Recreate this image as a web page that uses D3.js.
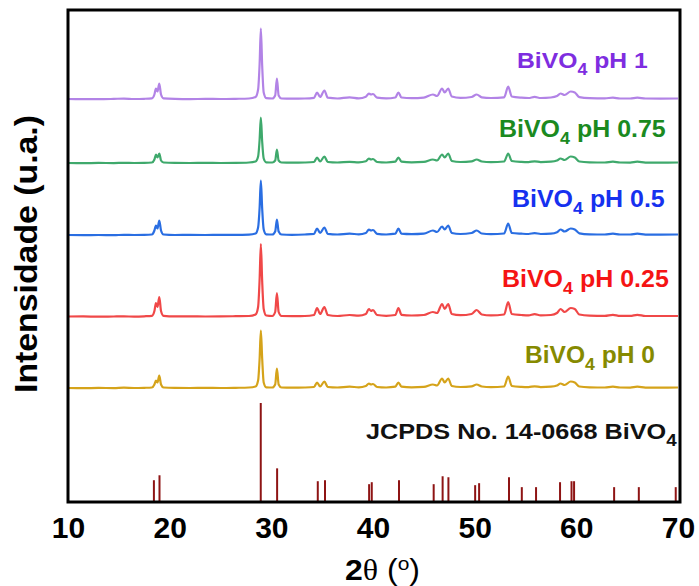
<!DOCTYPE html>
<html>
<head>
<meta charset="utf-8">
<script src="https://cdn.jsdelivr.net/npm/d3@7"></script>
<style>
  html, body { margin: 0; padding: 0; background: #fff; }
  svg { display: block; }
  text { font-family: "Liberation Sans", Arial, sans-serif; }
</style>
</head>
<body>
<svg id="chart" width="699" height="586"></svg>
<script>
// XRD patterns of BiVO4 prepared at different pH, with the JCPDS 14-0668 reference

const twoTheta = [
  10.0, 11.5, 13.0, 14.5, 15.5, 16.5, 17.5, 18.25, 18.5, 18.65, 18.8, 18.98, 19.15, 19.4,
  20.5, 22.0, 23.5, 25.0, 26.5, 27.8, 28.45, 28.7, 28.85, 28.97, 29.1, 29.25, 29.5,
  30.1, 30.38, 30.55, 30.72, 31.0, 32.0, 33.3, 34.2, 34.5, 34.8, 35.22, 35.55, 36.5,
  37.7, 38.6, 39.3, 39.6, 39.8, 40.0, 40.4, 41.3, 42.2, 42.5, 42.8, 43.8, 45.0, 45.9,
  46.3, 46.8, 47.05, 47.4, 47.75, 48.6, 49.7, 50.2, 50.7, 51.6, 52.9, 53.3, 53.65,
  54.6, 55.3, 55.9, 56.5, 57.5, 58.1, 58.45, 58.85, 59.45, 59.85, 60.3, 61.3, 62.8,
  63.6, 64.3, 65.3, 66.0, 66.8, 68.3, 70.0
];

const intensityPH0 = [
  0.5, 0.3, 0.6, 0.4, 0.8, 0.5, 0.7, 1.0, 4, 8, 6, 13, 4, 1,
  0.6, 0.5, 0.7, 0.5, 0.7, 1, 2, 8, 30, 58, 30, 6, 1.2,
  1, 4, 20, 4, 1, 0.8, 1, 1.5, 6, 2, 7, 1.5, 1,
  1.8, 1.2, 2.5, 5, 4, 4.5, 1.5, 1, 1.8, 6, 1.8, 1.2, 1.6, 4,
  3, 10, 6, 10, 2.5, 1.5, 2.2, 4, 2, 1.4, 2, 12, 2.5,
  1.6, 1.4, 2.2, 1.4, 1.8, 3, 5, 3.5, 7, 6, 2, 1.2, 1,
  1.8, 1, 0.9, 1.8, 0.9, 0.8, 1
];

const intensityPH025 = [
  0.5, 0.6, 0.3, 0.5, 0.6, 0.4, 0.7, 1.2, 6, 14, 10, 20, 6, 1.2,
  0.6, 0.7, 0.5, 0.6, 0.8, 1, 2.5, 10, 38, 73, 36, 8, 1.5,
  1, 5, 24, 5, 1, 0.9, 1, 2, 9, 3, 10, 2, 1,
  2, 1.3, 3, 8, 6, 7, 2, 1.2, 2, 9, 2.2, 1.5, 2, 5,
  4, 13, 8, 13, 3, 1.8, 3, 7, 2.5, 1.6, 2.5, 15, 3,
  2, 1.6, 2.8, 1.6, 2, 4, 8, 5, 9, 8, 2.5, 1.4, 1.2,
  2.2, 1.1, 1.1, 2.2, 1, 1, 1
];

const intensityPH05 = [
  0.5, 0.4, 0.5, 0.3, 0.7, 0.5, 0.6, 1.0, 5, 10, 7, 15, 5, 1,
  0.5, 0.6, 0.5, 0.7, 0.6, 0.9, 2, 8, 28, 55, 27, 6, 1.2,
  1, 4, 16, 4, 1, 0.7, 1, 1.6, 7, 2.5, 8, 1.6, 1,
  1.8, 1.2, 2.5, 6, 5, 5.5, 1.6, 1, 1.8, 7, 1.8, 1.3, 1.8, 5,
  3.5, 9, 6, 10, 2.5, 1.5, 2.5, 5, 2, 1.4, 2, 12, 2.5,
  1.8, 1.5, 2.4, 1.5, 1.8, 3.2, 6, 4, 7, 6, 2.2, 1.2, 1,
  1.8, 1, 1, 1.8, 0.9, 0.9, 1
];

const intensityPH075 = [
  0.5, 0.3, 0.6, 0.4, 0.7, 0.5, 0.6, 1.0, 4, 9, 6, 10, 3, 1,
  0.6, 0.5, 0.7, 0.5, 0.6, 1, 2, 7, 24, 46, 22, 5, 1.2,
  1, 3, 14, 3, 1, 0.8, 1, 1.5, 6, 2, 7, 1.5, 1,
  1.6, 1.2, 2.2, 5, 4, 4.5, 1.5, 1, 1.8, 6, 1.8, 1.2, 1.6, 4,
  3, 9, 6, 10, 2.5, 1.5, 2.2, 4, 2, 1.4, 2, 10, 2.5,
  1.6, 1.4, 2.2, 1.4, 1.8, 3, 5, 3.5, 7, 6, 2, 1.2, 1,
  1.8, 1, 0.9, 1.8, 0.9, 0.8, 1
];

const intensityPH1 = [
  0.5, 0.4, 0.3, 0.6, 0.9, 0.5, 0.7, 1.2, 5, 11, 8, 16, 5, 1.2,
  0.6, 0.4, 0.6, 0.5, 0.7, 1, 2.5, 10, 36, 71, 34, 7, 1.4,
  1, 4, 21, 4, 1, 0.8, 1, 1.7, 7, 2.5, 9, 1.8, 1,
  2.2, 1.2, 2.8, 6, 5, 5.5, 1.8, 1.1, 2, 7, 2, 1.3, 1.9, 5,
  3.5, 11, 7, 11, 3, 1.6, 2.5, 5, 2.2, 1.5, 2.2, 13, 3,
  1.8, 1.5, 2.6, 1.5, 2, 3.5, 6, 4.5, 8, 7, 2.4, 1.3, 1.1,
  1.9, 1, 1, 1.9, 1, 0.9, 1
];

// vertical stacking offset of each pattern (a.u.)
const stackOffset = [113.5, 185, 266.5, 338.5, 402.5];

const sampleNames = ["pH 0", "pH 0.25", "pH 0.5", "pH 0.75", "pH 1"];

// JCPDS 14-0668 reference reflections: position (2θ) and relative intensity (%)
const refPositions = [
  18.45, 19.0, 28.96, 30.57, 34.57, 35.28, 39.62, 39.88, 42.56, 45.97, 46.85, 47.42,
  50.05, 50.44, 53.38, 54.64, 56.04, 58.4, 59.53, 59.78, 63.72, 66.15, 69.78
];
const refIntensity = [
  22, 27, 100, 34, 21, 22, 18, 20, 22, 18, 26, 25,
  17, 19, 25, 15, 15, 20, 21, 21, 15, 15, 15
];

const xTicks = [10, 20, 30, 40, 50, 60, 70];

const series = [intensityPH0, intensityPH025, intensityPH05, intensityPH075, intensityPH1];
const lineColors = ["#d5a31a", "#f04848", "#2a6ee2", "#3fa96c", "#b283e6"];
const labelColors = ["#868a00", "#f51414", "#1631ef", "#1b8a1f", "#7e2de0"];
// label box: left edge, baseline, width
const labelBox = [[525, 363, 130], [502, 287, 167], [512, 207, 153], [499, 137, 167], [517, 68, 131]];

const svg = d3.select("#chart");
const plot = { left: 68, right: 680, top: 10, bottom: 502 };

const x = d3.scaleLinear().domain([10, 70.2]).range([plot.left, plot.right]);
const y = d3.scaleLinear().domain([0, 492]).range([plot.bottom, plot.top]);
const yRef = d3.scaleLinear().domain([0, 100]).range([plot.bottom, plot.bottom - 99]);

svg.append("defs").append("clipPath").attr("id", "plotClip")
  .append("rect")
  .attr("x", plot.left).attr("y", plot.top)
  .attr("width", plot.right - plot.left).attr("height", plot.bottom - plot.top);

const g = svg.append("g").attr("clip-path", "url(#plotClip)");

// reference sticks
g.selectAll("line.ref")
  .data(refPositions.map((p, i) => ({ p, v: refIntensity[i] })))
  .join("line")
  .attr("class", "ref")
  .attr("x1", d => x(d.p)).attr("x2", d => x(d.p))
  .attr("y1", yRef(0)).attr("y2", d => yRef(d.v))
  .attr("stroke", "#8e1414")
  .attr("stroke-width", 2);

// measured patterns
series.forEach((vals, k) => {
  const line = d3.line()
    .x((d, i) => x(twoTheta[i]))
    .y(d => y(d + stackOffset[k]))
    .curve(d3.curveMonotoneX);
  g.append("path")
    .datum(vals)
    .attr("d", line)
    .attr("fill", "none")
    .attr("stroke", lineColors[k])
    .attr("stroke-width", 2.2)
    .attr("stroke-linejoin", "round");
});

// frame
svg.append("rect")
  .attr("x", plot.left).attr("y", plot.top)
  .attr("width", plot.right - plot.left).attr("height", plot.bottom - plot.top)
  .attr("fill", "none").attr("stroke", "#000").attr("stroke-width", 3);

// stretch a text element horizontally so that it spans the given width from x0
function fitWidth(sel, x0, w) {
  const bb = sel.node().getBBox();
  const sx = w / bb.width;
  sel.attr("transform", `translate(${x0},0) scale(${sx},1) translate(${-bb.x},0)`);
}

// x axis tick labels
const xAxis = d3.axisBottom(x).tickValues(xTicks).tickSize(0).tickPadding(15).tickFormat(d3.format("d"));
const ax = svg.append("g").attr("transform", `translate(0,${plot.bottom})`).call(xAxis);
ax.select(".domain").remove();
ax.selectAll("text")
  .attr("font-family", "'Liberation Sans', Arial, sans-serif")
  .attr("font-size", 30)
  .attr("font-weight", "bold")
  .attr("fill", "#000");

// x axis title: 2θ (º)
const xt = svg.append("text")
  .attr("x", 345).attr("y", 580)
  .attr("font-size", 29)
  .attr("fill", "#000");
xt.append("tspan").attr("font-weight", "bold").text("2");
xt.append("tspan").attr("font-family", "'Liberation Serif', serif").text("θ");
xt.append("tspan").text(" (");
xt.append("tspan").attr("font-size", 19).attr("dy", -10).text("o");
xt.append("tspan").attr("dy", 10).text(")");
fitWidth(xt, 345, 75);

// y axis title, reading upward from y = 393
svg.append("text")
  .attr("transform", "translate(37,393) rotate(-90)")
  .attr("text-anchor", "start")
  .attr("font-size", 31)
  .attr("font-weight", "bold")
  .attr("fill", "#000")
  .attr("textLength", 278)
  .attr("lengthAdjust", "spacingAndGlyphs")
  .text("Intensidade (u.a.)");

// sample labels
function bivoLabel(xp, yp, suffix, color, size) {
  const t = svg.append("text")
    .attr("x", xp).attr("y", yp)
    .attr("font-size", size)
    .attr("font-weight", "bold")
    .attr("fill", color);
  t.append("tspan").text("BiVO");
  t.append("tspan").attr("font-size", size * 0.72).attr("dy", size * 0.3).text("4");
  if (suffix) t.append("tspan").attr("dy", -size * 0.3).text(" " + suffix);
  return t;
}

sampleNames.forEach((name, k) => {
  const [lx, ly, lw] = labelBox[k];
  const t = bivoLabel(lx, ly, name, labelColors[k], 23);
  fitWidth(t, lx, lw);
});

// reference label
const rt = svg.append("text")
  .attr("x", 366).attr("y", 439)
  .attr("font-size", 21.5)
  .attr("font-weight", "bold")
  .attr("fill", "#111");
rt.append("tspan").text("JCPDS No. 14-0668 BiVO");
rt.append("tspan").attr("font-size", 16).attr("dy", 7).text("4");
fitWidth(rt, 366, 311);
</script>
</body>
</html>
